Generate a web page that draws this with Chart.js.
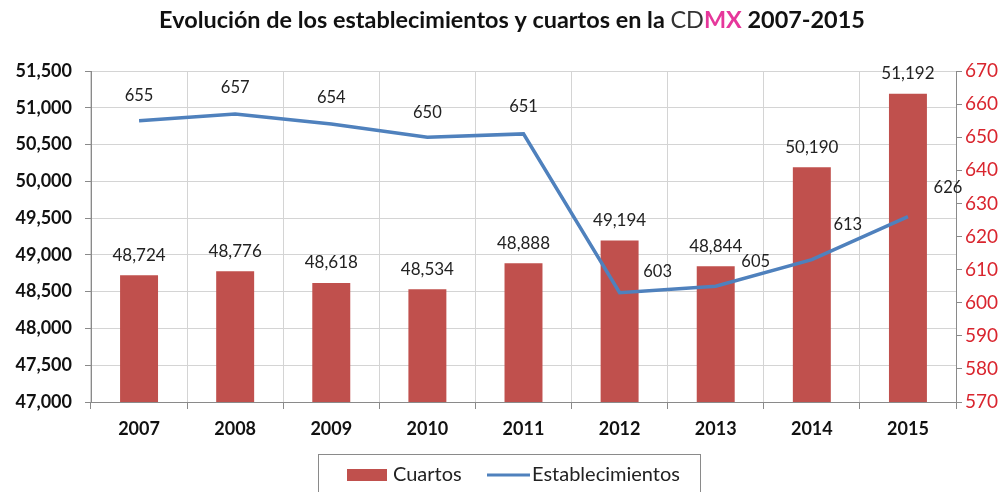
<!DOCTYPE html>
<html>
<head>
<meta charset="utf-8">
<script src="https://cdn.jsdelivr.net/npm/chart.js@4/dist/chart.umd.min.js"></script>
<style>
html,body{margin:0;padding:0;background:#fff;}
#wrap{width:1003px;height:492px;position:relative;}
</style>
</head>
<body>
<div id="wrap"><canvas id="c" width="1003" height="492"></canvas></div>
<script>
const years = ['2007','2008','2009','2010','2011','2012','2013','2014','2015'];
const cuartos = [48724, 48776, 48618, 48534, 48888, 49194, 48844, 50190, 51192];
const establecimientos = [655, 657, 654, 650, 651, 603, 605, 613, 626];
const leftAxisRange = [47000, 51500, 500];
const rightAxisRange = [570, 670, 10];
const seriesNames = ['Cuartos', 'Establecimientos'];

const FONT = 'Lato, "Open Sans", "DejaVu Sans", sans-serif';
const BAR_COLOR = '#C0504D';
const LINE_COLOR = '#4F81BD';
const fmt = v => Number(v).toLocaleString('en-US');

const bgPlugin = {
  id: 'bg',
  beforeDraw(chart) {
    const ctx = chart.ctx;
    ctx.save();
    ctx.fillStyle = '#fff';
    ctx.fillRect(0, 0, chart.width, chart.height);
    ctx.restore();
  }
};

const titlePlugin = {
  id: 'richTitle',
  afterDraw(chart, args, opts) {
    const ctx = chart.ctx;
    const segs = opts.segments;
    let size = 22;
    const measure = s => {
      let w = 0;
      segs.forEach(g => { ctx.font = (g.bold ? 'bold ' : '') + s + 'px ' + FONT; w += ctx.measureText(g.text).width; });
      return w;
    };
    ctx.save();
    size = size * opts.width / measure(size);
    const total = measure(size);
    let x = opts.cx - total / 2;
    ctx.textBaseline = 'middle';
    ctx.textAlign = 'left';
    segs.forEach(g => {
      ctx.font = (g.bold ? 'bold ' : '') + size + 'px ' + FONT;
      ctx.fillStyle = g.color;
      ctx.fillText(g.text, x, opts.cy);
      x += ctx.measureText(g.text).width;
    });
    ctx.restore();
  }
};

const labelsPlugin = {
  id: 'valueLabels',
  afterDatasetsDraw(chart, args, opts) {
    const ctx = chart.ctx;
    ctx.save();
    ctx.fillStyle = '#222';
    ctx.textAlign = 'center';
    ctx.textBaseline = 'middle';
    ctx.font = '17px ' + FONT;
    const barMeta = chart.getDatasetMeta(0);
    barMeta.data.forEach((el, i) => {
      ctx.fillText(fmt(chart.data.datasets[0].data[i]), el.x, el.y - opts.barGap);
    });
    ctx.font = '16.5px ' + FONT;
    const lineMeta = chart.getDatasetMeta(1);
    lineMeta.data.forEach((el, i) => {
      const off = opts.lineOffsets[i];
      ctx.fillText(String(chart.data.datasets[1].data[i]), el.x + off[0], el.y + off[1]);
    });
    ctx.restore();
  }
};

const legendPlugin = {
  id: 'boxLegend',
  afterDraw(chart, args, opts) {
    const ctx = chart.ctx;
    ctx.save();
    ctx.strokeStyle = '#8a8a8a';
    ctx.lineWidth = 1;
    ctx.strokeRect(318.5, 454.5, 382, 50);
    const cy = 475;
    ctx.fillStyle = BAR_COLOR;
    ctx.fillRect(347, cy - 6, 40, 12);
    ctx.font = '20px ' + FONT;
    ctx.fillStyle = '#222';
    ctx.textBaseline = 'middle';
    ctx.textAlign = 'left';
    ctx.fillText(seriesNames[0], 393, cy);
    ctx.strokeStyle = LINE_COLOR;
    ctx.lineWidth = 3;
    ctx.beginPath();
    ctx.moveTo(487, cy);
    ctx.lineTo(530, cy);
    ctx.stroke();
    ctx.fillText(seriesNames[1], 532, cy);
    ctx.restore();
  }
};

new Chart(document.getElementById('c'), {
  data: {
    labels: years,
    datasets: [
      {
        type: 'bar',
        label: seriesNames[0],
        data: cuartos,
        backgroundColor: BAR_COLOR,
        yAxisID: 'y',
        barPercentage: 0.395,
        categoryPercentage: 1,
        order: 2
      },
      {
        type: 'line',
        label: seriesNames[1],
        data: establecimientos,
        borderColor: LINE_COLOR,
        backgroundColor: LINE_COLOR,
        borderWidth: 3.5,
        pointRadius: 0,
        tension: 0,
        yAxisID: 'y1',
        order: 1
      }
    ]
  },
  options: {
    responsive: false,
    animation: false,
    devicePixelRatio: 1,
    layout: { padding: { top: 71, left: 0, right: 0, bottom: 0 } },
    plugins: {
      legend: { display: false },
      title: { display: false },
      tooltip: { enabled: false },
      richTitle: {
        cx: 512, cy: 20, width: 706,
        segments: [
          { text: 'Evolución de los establecimientos y cuartos en la ', bold: true, color: '#111' },
          { text: 'CD', bold: false, color: '#333' },
          { text: 'MX', bold: true, color: '#E6379B' },
          { text: ' 2007-2015', bold: true, color: '#111' }
        ]
      },
      valueLabels: {
        barGap: 20,
        lineOffsets: [[0,-25],[0,-26],[0,-26],[0,-25],[0,-27],[38,-21],[40,-24],[36,-35],[40,-29]]
      }
    },
    scales: {
      x: {
        grid: { offset: true, color: '#d4d4d4', tickColor: '#8a8a8a', tickLength: 7, drawTicks: true },
        border: { color: '#8a8a8a' },
        ticks: { font: { family: FONT, size: 18, weight: 'bold' }, color: '#111', padding: 9 },
        afterFit(s) { s.height = 90; }
      },
      y: {
        position: 'left',
        min: leftAxisRange[0], max: leftAxisRange[1],
        grid: { color: '#d4d4d4', tickColor: '#8a8a8a', tickLength: 6 },
        border: { color: '#8a8a8a' },
        ticks: { stepSize: leftAxisRange[2], font: { family: FONT, size: 18, weight: 'bold' }, color: '#111', padding: 13, callback: v => fmt(v) },
        afterFit(s) { s.width = 91; }
      },
      y1: {
        position: 'right',
        min: rightAxisRange[0], max: rightAxisRange[1],
        grid: { drawOnChartArea: false, tickColor: '#8a8a8a', tickLength: 6 },
        border: { color: '#8a8a8a' },
        ticks: { stepSize: rightAxisRange[2], font: { family: FONT, size: 19 }, color: '#D9252E', padding: 3 },
        afterFit(s) { s.width = 47; }
      }
    }
  },
  plugins: [bgPlugin, titlePlugin, labelsPlugin, legendPlugin]
});
</script>
</body>
</html>
